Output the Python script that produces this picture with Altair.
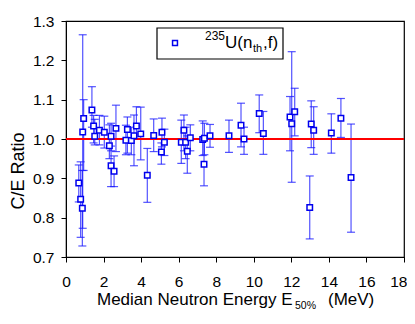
import altair as alt
import pandas as pd

energy = [0.68, 0.78, 0.87, 0.89, 0.94, 1.38, 1.47, 1.53, 1.78, 2.04, 2.31, 2.40, 2.40, 2.56, 2.66,
          3.19, 3.27, 3.48, 3.62, 3.75, 3.98, 4.33, 4.67, 5.11, 5.08, 5.24, 6.14, 6.28, 6.37, 6.46,
          6.62, 7.28, 7.37, 7.35, 7.67, 8.68, 9.32, 9.48, 10.29, 10.51, 11.93, 12.02, 12.18, 12.98,
          13.06, 13.19, 14.13, 14.64, 15.18]
ratio = [0.888, 0.847, 0.824, 1.018, 1.052, 1.074, 1.033, 1.007, 1.022, 1.017, 0.983, 1.007, 0.932,
         0.918, 1.027, 0.997, 1.024, 0.996, 1.008, 1.033, 1.013, 0.908, 1.009, 1.017, 0.967, 0.992,
         0.992, 1.022, 0.992, 0.969, 1.003, 0.999, 1.002, 0.936, 1.008, 1.008, 1.035, 1.000, 1.065,
         1.014, 1.056, 1.039, 1.069, 0.826, 1.038, 1.022, 1.015, 1.053, 0.902]
low = [0.840, 0.750, 0.728, 0.773, 0.920, 1.030, 0.990, 0.985, 0.985, 0.977, 0.950, 0.970, 0.879,
       0.879, 0.968, 0.960, 0.964, 0.960, 0.932, 0.999, 0.947, 0.839, 0.968, 0.980, 0.936, 0.958,
       0.938, 0.970, 0.950, 0.913, 0.970, 0.958, 0.960, 0.881, 0.979, 0.966, 0.980, 0.961, 1.016,
       0.961, 0.970, 0.890, 1.008, 0.746, 0.978, 0.961, 0.964, 1.004, 0.763]
high = [0.934, 0.942, 0.920, 1.265, 1.100, 1.133, 1.060, 1.050, 1.060, 1.058, 1.036, 1.040, 0.982,
        0.957, 1.086, 1.035, 1.056, 1.030, 1.061, 1.082, 1.081, 0.976, 1.051, 1.053, 0.990, 1.025,
        1.048, 1.061, 1.030, 1.008, 1.036, 1.046, 1.040, 1.002, 1.037, 1.048, 1.091, 1.030, 1.112,
        1.070, 1.108, 1.222, 1.129, 0.906, 1.097, 1.082, 1.064, 1.103, 1.038]
x_ticks = [0, 2, 4, 6, 8, 10, 12, 14, 16, 18]
y_ticks = [0.7, 0.8, 0.9, 1.0, 1.1, 1.2, 1.3]

df = pd.DataFrame({"E": energy, "CE": ratio, "lo": low, "hi": high})
ref = pd.DataFrame({"y": [1.0]})

FONT = "Liberation Sans"
BLUE = "#1a1aff"

xs = alt.Scale(domain=[0, 18], nice=False)
ys = alt.Scale(domain=[0.7, 1.3], nice=False)

xaxis = alt.Axis(values=x_ticks, title=None, grid=False, tickSize=5, labelFontSize=15.5,
                 labelFont=FONT, labelColor="black", tickColor="black", domainColor="black",
                 labelPadding=12, labelOverlap=False, labelFlush=False,
                 labelAlign={"expr": "datum.value == 18 ? 'right' : 'center'"},
                 labelOffset={"expr": "datum.value == 18 ? 3 : 0"})
yaxis = alt.Axis(values=y_ticks, format=".1f", title=None, grid=False, tickSize=5,
                 labelFontSize=15.5, labelFont=FONT, labelColor="black", tickColor="black",
                 domainColor="black", labelPadding=7, labelOverlap=False, labelFlush=False)

base = alt.Chart(df)
X = alt.X("E:Q", scale=xs, axis=xaxis)

bars = base.mark_rule(color=BLUE, strokeWidth=1.2, opacity=0.75).encode(
    x=X, y=alt.Y("lo:Q", scale=ys, axis=yaxis), y2="hi:Q")
cap_lo = base.mark_tick(color=BLUE, size=8, thickness=1.2, orient="horizontal", opacity=0.75).encode(
    x=X, y=alt.Y("lo:Q", scale=ys, axis=yaxis))
cap_hi = base.mark_tick(color=BLUE, size=8, thickness=1.2, orient="horizontal", opacity=0.75).encode(
    x=X, y=alt.Y("hi:Q", scale=ys, axis=yaxis))

refline = alt.Chart(ref).mark_rule(color="#ff0000", strokeWidth=2.2).encode(
    y=alt.Y("y:Q", scale=ys, axis=yaxis))

pts = base.mark_square(filled=False, color="#0000ee", fill="white", fillOpacity=1,
                       size=30, strokeWidth=1.5).encode(
    x=X, y=alt.Y("CE:Q", scale=ys, axis=yaxis))

# legend box
legbox = alt.Chart(ref).mark_rect(fill="white", stroke="black", strokeWidth=1.2).encode(
    x=alt.value(91), x2=alt.value(217), y=alt.value(7), y2=alt.value(38))
legsym = alt.Chart(ref).mark_square(filled=False, color="#0000ee", fill="white", fillOpacity=1,
                                    size=24, strokeWidth=1.5).encode(
    x=alt.value(109), y=alt.value(22))

def txt(s, x, y, size=14, align="left"):
    return alt.Chart(ref).mark_text(text=s, font=FONT, fontSize=size, align=align,
                                    baseline="alphabetic", color="black").encode(
        x=alt.value(x), y=alt.value(y))

legtext = (txt("235", 139, 19, 12) + txt("U(n", 159, 27, 17) + txt("th", 187, 31, 11)
           + txt(",f)", 197, 27, 17))

xtitle = (txt("Median Neutron Energy E", 31, 284, 17) + txt("50%", 229, 288, 10.5)
          + txt("(MeV)", 262, 284, 17))

ytitle = alt.Chart(ref).mark_text(text="C/E Ratio", font=FONT, fontSize=18, angle=270,
                                  align="center", baseline="middle", color="black").encode(
    x=alt.value(-47), y=alt.value(150))

chart = alt.layer(bars, cap_lo, cap_hi, refline, pts, legbox, legsym, legtext, xtitle, ytitle).properties(
    width=338, height=236,
    autosize=alt.AutoSizeParams(type="none"),
    padding={"left": 58, "top": 13, "right": 3, "bottom": 56},
).configure_view(stroke="black", strokeWidth=1.2)

chart.save("out.html", embed_options={"renderer": "svg", "actions": False})
